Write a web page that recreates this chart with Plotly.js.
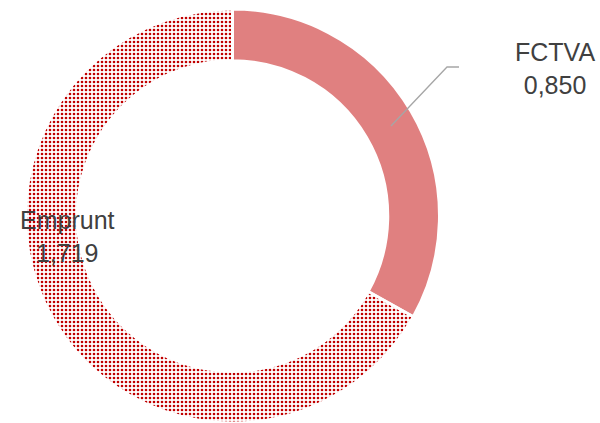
<!DOCTYPE html>
<html>
<head>
<meta charset="utf-8">
<script src="https://cdn.plot.ly/plotly-3.0.1.min.js"></script>
<style>html,body{margin:0;padding:0;background:#fff;overflow:hidden}#chart{width:600px;height:423px}</style>
</head>
<body>
<div id="chart"></div>
<script>
const categories = ["FCTVA", "Emprunt"];
const values = [0.850, 1.719];

function fmt(v) { return v.toFixed(3).replace('.', ','); }

const W = 600, H = 423;
const cx = 232.5, cy = 216.5, R = 207.5;

const trace = {
  type: 'pie',
  labels: categories,
  values: values,
  sort: false,
  direction: 'clockwise',
  rotation: 0,
  hole: 0.75,
  textinfo: 'none',
  hoverinfo: 'label+value',
  showlegend: false,
  domain: { x: [(cx - R) / W, (cx + R) / W], y: [(H - cy - R) / H, (H - cy + R) / H] },
  marker: {
    colors: ['#E08080', '#ffffff'],
    line: { color: '#ffffff', width: 3 },
    pattern: {
      shape: ['', '.'],
      fgcolor: ['#E08080', '#C00000'],
      bgcolor: ['#E08080', '#ffffff'],
      size: 4,
      solidity: 0.34
    }
  }
};

const font = { family: 'Liberation Sans, Arial, sans-serif', size: 25, color: '#404040' };
const labelPos = [ { x: 555, y: 68 }, { x: 67, y: 236 } ];

const annotations = categories.map((c, i) => ({
  xref: 'paper', yref: 'paper',
  x: labelPos[i].x / W, y: 1 - labelPos[i].y / H,
  xanchor: 'center', yanchor: 'middle',
  text: c + '<br>' + fmt(values[i]),
  showarrow: false,
  font: font,
  align: 'center'
}));

const layout = {
  width: W, height: H,
  margin: { l: 0, r: 0, t: 0, b: 0 },
  paper_bgcolor: '#ffffff',
  plot_bgcolor: '#ffffff',
  separators: ', ',
  annotations: annotations,
  shapes: [{
    type: 'path', xref: 'paper', yref: 'paper',
    path: 'M ' + (391 / W) + ',' + (1 - 126 / H) + ' L ' + (447 / W) + ',' + (1 - 67 / H) + ' L ' + (459 / W) + ',' + (1 - 67 / H),
    line: { color: '#A6A6A6', width: 1.3 }
  }]
};

Plotly.newPlot('chart', [trace], layout, { displayModeBar: false, staticPlot: true });
</script>
</body>
</html>
